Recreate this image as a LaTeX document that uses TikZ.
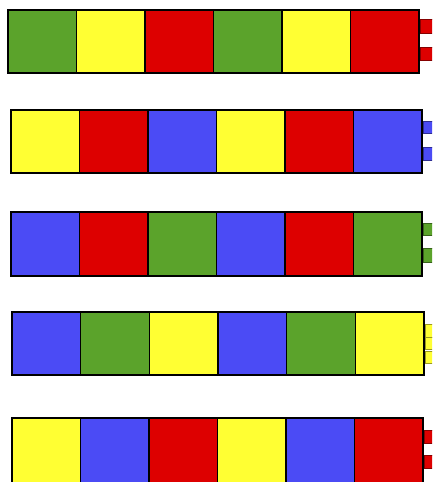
\documentclass[tikz,border=0pt]{standalone}
\definecolor{cg}{HTML}{5BA32B}
\definecolor{cy}{HTML}{FFFF33}
\definecolor{cr}{HTML}{DD0000}
\definecolor{cb}{HTML}{4B4BF5}
\tikzset{cell/.style={draw=black,line width=1.6pt},
tab/.style={line width=0.6pt}}
\begin{document}
\begin{tikzpicture}[x=1pt,y=-1pt]
\useasboundingbox (0,0) rectangle (432,482);
\clip (0,0) rectangle (432,482);
\fill[white] (0,0) rectangle (432,482);
% rows: left, right, top, bottom, colours, tab colour, tabs
\foreach \L/\R/\T/\B/\ca/\cbb/\cc/\tc in {
 8/419/10/73/cg/cy/cr/cr,
 11/422/110/173/cy/cr/cb/cb,
 11/422/212/276/cb/cr/cg/cg,
 12/424/312/375/cb/cg/cy/cy,
 12/423/418/492/cy/cb/cr/cr}{
  \pgfmathsetmacro{\w}{(\R-\L)/6}
  \foreach \i/\c in {0/\ca,1/\cbb,2/\cc,3/\ca,4/\cbb,5/\cc}{
    \fill[\c] ({\L+\i*\w},\T) rectangle ({\L+(\i+1)*\w},\B);
  }
  \foreach \i in {1,...,5}{
    \draw[line width=1.6pt] ({\L+\i*\w},\T) -- ({\L+\i*\w},\B);
  }
  \draw[cell] (\L,\T) rectangle (\R,\B);
}
% tabs
\foreach \R/\a/\b/\tc in {419/19/33/cr,419/47/60/cr,
 422/121/133/cb,422/147/160/cb,
 422/223/235/cg,422/248/262/cg,
 424/324/337/cy,424/337/349/cy,424/351/363/cy,
 423/430/443/cr,423/455/468/cr}{
  \filldraw[fill=\tc,draw=\tc!60!black,tab] (\R+0.8,\a) rectangle (436,\b);
}
\end{tikzpicture}
\end{document}
